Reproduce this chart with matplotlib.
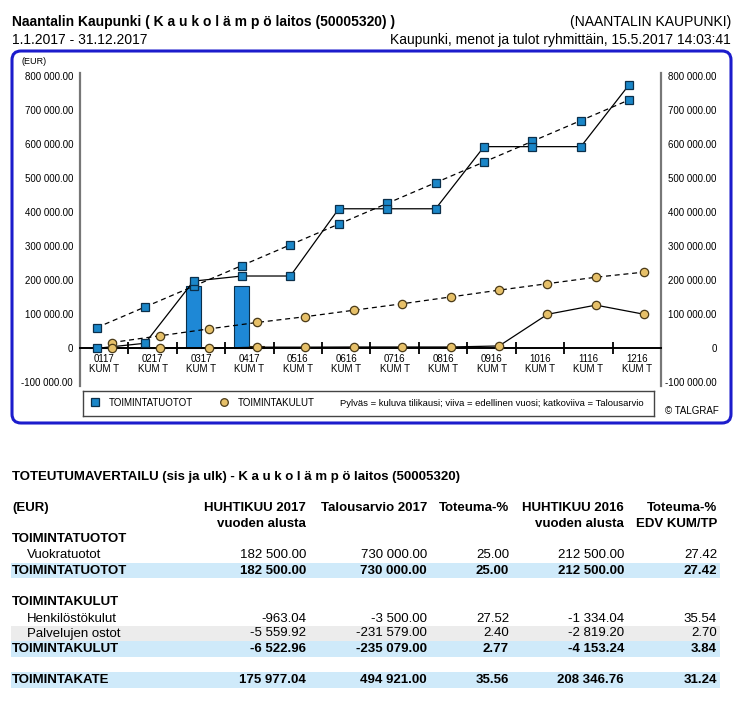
import numpy as np
import matplotlib
matplotlib.use('Agg')
import matplotlib.pyplot as plt
from matplotlib.patches import FancyBboxPatch, Rectangle
from matplotlib.ticker import FixedLocator, FuncFormatter

# ---------------- data ----------------
categories = ['0117', '0217', '0317', '0417', '0516', '0616',
              '0716', '0816', '0916', '1016', '1116', '1216']
tuotot_current = [0, 0, 182500, 182500]          # bars (current year)
kulut_current = [0, 0, 0, 6523]                  # bars (current year)
tuotot_prev = [0, 15000, 197500, 212500, 212500, 410000, 410000,
               410000, 592500, 592500, 592500, 775000]
tuotot_budget = [60833, 121667, 182500, 243333, 304167, 365000, 425833,
                 486667, 547500, 608333, 669167, 730000]
kulut_prev = [0, 0, 0, 3500, 3500, 4000, 4000, 4000, 7000, 100000, 127000, 100000]
kulut_budget = [17000, 37000, 57000, 76000, 93000, 112000, 131000,
                151000, 171000, 190000, 209000, 224000]
y_ticks = [-100000, 0, 100000, 200000, 300000, 400000, 500000, 600000, 700000, 800000]

table_cols = ['HUHTIKUU 2017\nvuoden alusta', 'Talousarvio 2017', 'Toteuma-%',
              'HUHTIKUU 2016\nvuoden alusta', 'Toteuma-%\nEDV KUM/TP']
vuokratuotot = [182500.00, 730000.00, 25.00, 212500.00, 27.42]
toimintatuotot = [182500.00, 730000.00, 25.00, 212500.00, 27.42]
henkilostokulut = [-963.04, -3500.00, 27.52, -1334.04, 35.54]
palvelujen_ostot = [-5559.92, -231579.00, 2.40, -2819.20, 2.70]
toimintakulut = [-6522.96, -235079.00, 2.77, -4153.24, 3.84]
toimintakate = [175977.04, 494921.00, 35.56, 208346.76, 31.24]

# ---------------- styles ----------------
NARROW = ['Liberation Sans Narrow', 'Liberation Sans', 'DejaVu Sans']
ARIAL = ['Liberation Sans', 'DejaVu Sans']
SQ_FACE = '#1a86c8'
SQ_EDGE = '#0b2f4a'
CI_FACE = '#e6c069'
CI_EDGE = '#4a3a18'
BAR_BLUE = '#1e88d6'
BAND_BLUE = '#cfeafa'
BAND_GREY = '#ececec'

W, H = 743, 709
fig = plt.figure(figsize=(W / 100, H / 100), dpi=100)

bg = fig.add_axes([0, 0, 1, 1], zorder=0)
bg.set_xlim(0, W)
bg.set_ylim(H, 0)
bg.axis('off')

# ---------------- header ----------------
HFS = 10
bg.text(12, 22, 'Naantalin Kaupunki ( K a u k o l ä m p ö laitos (50005320) )',
        fontsize=HFS, weight='bold', family=NARROW, va='center', ha='left')
bg.text(12, 40, '1.1.2017 - 31.12.2017', fontsize=HFS, family=NARROW,
        va='center', ha='left')
bg.text(731, 22, '(NAANTALIN KAUPUNKI)', fontsize=HFS, family=NARROW,
        va='center', ha='right')
bg.text(731, 40, 'Kaupunki, menot ja tulot ryhmittäin, 15.5.2017 14:03:41',
        fontsize=HFS, family=NARROW, va='center', ha='right')

# blue frame
frame = FancyBboxPatch((12, 51), 719, 372,
                       boxstyle='round,pad=0,rounding_size=9',
                       fc='none', ec='#1c1ccc', lw=2.2)
bg.add_patch(frame)
bg.text(22, 62, '(EUR)', fontsize=6.5, family=ARIAL, va='center', ha='left')
bg.text(719, 411, '© TALGRAF', fontsize=7, family=ARIAL, va='center', ha='right')

# ---------------- chart ----------------
ax_left, ax_right = 80, 661
ax_top, ax_bot = 72.6, 385.8
ax = fig.add_axes([ax_left / W, (H - ax_bot) / H, (ax_right - ax_left) / W,
                   (ax_bot - ax_top) / H], zorder=2)
ax.patch.set_alpha(0)
x = np.arange(len(categories))
bw = 0.31
ax.bar(x[:len(tuotot_current)] - bw / 2, tuotot_current, width=bw,
       color=BAR_BLUE, edgecolor='#0b2f4a', lw=0.8, zorder=2)
ax.bar(x[:len(kulut_current)] + bw / 2, kulut_current, width=bw,
       color=CI_FACE, edgecolor=CI_EDGE, lw=0.8, zorder=2)

MS = 6
ax.plot(x - bw / 2, tuotot_budget, color='black', lw=0.9, ls=(0, (4, 3)),
        marker='s', ms=MS, mfc=SQ_FACE, mec=SQ_EDGE, mew=0.9, zorder=4)
ax.plot(x - bw / 2, tuotot_prev, color='black', lw=0.9, ls='-',
        marker='s', ms=MS, mfc=SQ_FACE, mec=SQ_EDGE, mew=0.9, zorder=4)
ax.plot(x + bw / 2, kulut_budget, color='black', lw=0.9, ls=(0, (4, 3)),
        marker='o', ms=MS, mfc=CI_FACE, mec=CI_EDGE, mew=0.9, zorder=4)
ax.plot(x + bw / 2, kulut_prev, color='black', lw=0.9, ls='-',
        marker='o', ms=MS, mfc=CI_FACE, mec=CI_EDGE, mew=0.9, zorder=4)

ax.set_xlim(-0.5, len(categories) - 0.5)
ax.set_ylim(-110000, 810000)

ax.spines['top'].set_visible(False)
ax.spines['left'].set_color('#777777')
ax.spines['left'].set_linewidth(1.6)
ax.spines['right'].set_color('#777777')
ax.spines['right'].set_linewidth(1.6)
ax.spines['bottom'].set_position(('data', 0))
ax.spines['bottom'].set_color('black')
ax.spines['bottom'].set_linewidth(1.4)
ax.spines['bottom'].set_zorder(3)

ax.xaxis.set_major_locator(FixedLocator(x))
ax.set_xticklabels([c + '\nKUM T' for c in categories], fontsize=7,
                   family=ARIAL, linespacing=1.0)
ax.xaxis.set_minor_locator(FixedLocator(x[:-1] + 0.5))
ax.tick_params(axis='x', which='major', length=0, pad=4)
ax.tick_params(axis='x', which='minor', length=9, width=1.3,
               direction='inout', color='black')


def yfmt(v, pos=None):
    if v == 0:
        return '0'
    return f'{v:,.2f}'.replace(',', ' ')


ax.yaxis.set_major_locator(FixedLocator(y_ticks))
ax.yaxis.set_major_formatter(FuncFormatter(yfmt))
ax.tick_params(axis='y', length=0, pad=5, labelsize=7)
for lab in ax.get_yticklabels():
    lab.set_family(ARIAL)

ax2 = ax.twinx()
ax2.set_ylim(ax.get_ylim())
ax2.yaxis.set_major_locator(FixedLocator(y_ticks))
ax2.yaxis.set_major_formatter(FuncFormatter(yfmt))
ax2.tick_params(axis='y', length=0, pad=40, labelsize=7)
for lab in ax2.get_yticklabels():
    lab.set_family(ARIAL)
    lab.set_horizontalalignment('right')
for s in ['top', 'bottom', 'left', 'right']:
    ax2.spines[s].set_visible(False)

# ---------------- legend ----------------
lx0, lx1, ly0, ly1 = 82.7, 654, 390.7, 415.7
lg = fig.add_axes([lx0 / W, (H - ly1) / H, (lx1 - lx0) / W, (ly1 - ly0) / H], zorder=3)
lg.set_xlim(lx0, lx1)
lg.set_ylim(ly1, ly0)
lg.set_xticks([])
lg.set_yticks([])
for s in lg.spines.values():
    s.set_color('#444444')
    s.set_linewidth(1.0)
ly = 403
lg.plot([94.7], [ly - 1], marker='s', ms=5.5, mfc=SQ_FACE, mec=SQ_EDGE, mew=0.9, ls='none')
lg.text(109, ly, 'TOIMINTATUOTOT', fontsize=7, family=ARIAL, va='center', ha='left')
lg.plot([224], [ly - 1.5], marker='o', ms=5.5, mfc=CI_FACE, mec=CI_EDGE, mew=0.9, ls='none')
lg.text(238, ly, 'TOIMINTAKULUT', fontsize=7, family=ARIAL, va='center', ha='left')
lg.text(340, ly, 'Pylväs = kuluva tilikausi; viiva = edellinen vuosi; katkoviiva = Talousarvio',
        fontsize=6.8, family=ARIAL, va='center', ha='left')

# ---------------- table ----------------
def vfmt(v):
    return f'{v:,.2f}'.replace(',', ' ')


col_right = [306, 427, 509, 624, 717]
TFS = 9.5
bg.text(12, 477, 'TOTEUTUMAVERTAILU (sis ja ulk) - K a u k o l ä m p ö laitos (50005320)',
        fontsize=TFS, weight='bold', family=NARROW, va='center', ha='left')
bg.text(12, 508, '(EUR)', fontsize=TFS, weight='bold', family=NARROW, va='center')
for cx, head in zip(col_right, table_cols):
    lines = head.split('\n')
    for k, ln in enumerate(lines):
        bg.text(cx, 508 + 16 * k, ln, fontsize=TFS, weight='bold', family=NARROW,
                va='center', ha='right')

bands = [(563, 578, BAND_BLUE), (626, 641, BAND_GREY), (641, 656.5, BAND_BLUE),
         (672, 687.5, BAND_BLUE)]
for y0, y1, c in bands:
    bg.add_patch(Rectangle((10.5, y0), 709, y1 - y0, fc=c, ec='none', zorder=0))

rows = [
    ('TOIMINTATUOTOT', None, True, 12, 539.5),
    ('Vuokratuotot', vuokratuotot, False, 27, 555.5),
    ('TOIMINTATUOTOT', toimintatuotot, True, 12, 570.5),
    ('TOIMINTAKULUT', None, True, 12, 602),
    ('Henkilöstökulut', henkilostokulut, False, 27, 618.5),
    ('Palvelujen ostot', palvelujen_ostot, False, 27, 633.5),
    ('TOIMINTAKULUT', toimintakulut, True, 12, 649),
    ('TOIMINTAKATE', toimintakate, True, 12, 680),
]
for name, vals, bold, tx, ty in rows:
    w = 'bold' if bold else 'normal'
    bg.text(tx, ty, name, fontsize=TFS, weight=w, family=NARROW, va='center', ha='left',
            zorder=2)
    if vals is not None:
        for cx, v in zip(col_right, vals):
            bg.text(cx, ty, vfmt(v), fontsize=TFS, weight=w, family=NARROW,
                    va='center', ha='right', zorder=2)

fig.savefig('out.png', dpi=100)
